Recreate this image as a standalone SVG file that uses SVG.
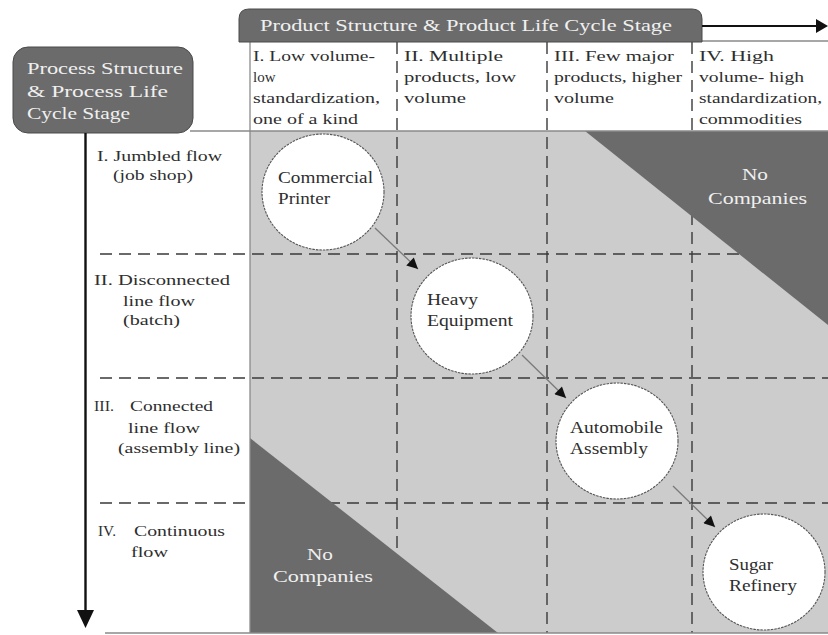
<svg xmlns="http://www.w3.org/2000/svg" width="828" height="635" viewBox="0 0 828 635" font-family="'Liberation Serif', 'DejaVu Serif', 'Times New Roman', serif">
  <defs>
    <style>
      text{font-family:"Liberation Serif","DejaVu Serif","Times New Roman",serif}
      .lbl{font-size:14px;fill:#2e2e2e}
      .big{font-size:16px}
      .inv{fill:#f0f0f0}
      .grid{stroke:#3a3a3a;stroke-width:1.4;stroke-dasharray:12 7;fill:none}
      .rule{stroke:#8a8a8a;stroke-width:1.3;fill:none}
      .dark{fill:#6b6b6b}
      .node{fill:#ffffff;stroke:#555555;stroke-width:1.1;stroke-dasharray:2.5 1}
      .link{stroke:#7a7a7a;stroke-width:1.3;fill:none;marker-end:url(#ah)}
      .axis{stroke:#111111;stroke-width:2.4;fill:none}
    </style>
    <marker id="ah" viewBox="0 0 10 10" markerWidth="12" markerHeight="11" refX="10" refY="5" orient="auto" markerUnits="userSpaceOnUse">
      <path d="M0,0 L10,5 L0,10 Z" fill="#111111"/>
    </marker>
  </defs>

  <!-- matrix background -->
  <rect x="250" y="131" width="578" height="502" fill="#cccccc"/>

  <!-- grid lines (dashed) -->
  <g id="grid">
    <line class="grid" x1="397" y1="42" x2="397" y2="633"/>
    <line class="grid" x1="547" y1="42" x2="547" y2="633"/>
    <line class="grid" x1="692" y1="42" x2="692" y2="633"/>
    <line class="grid" x1="100" y1="254" x2="828" y2="254"/>
    <line class="grid" x1="100" y1="378" x2="828" y2="378"/>
    <line class="grid" x1="100" y1="503" x2="828" y2="503"/>
  </g>

  <!-- empty zones -->
  <g id="zone-top-right">
    <polygon class="dark" points="585,131 828,131 828,325"/>
    <text class="lbl big inv" x="742" y="180" textLength="26" lengthAdjust="spacingAndGlyphs">No</text>
    <text class="lbl big inv" x="708" y="204" textLength="99" lengthAdjust="spacingAndGlyphs">Companies</text>
  </g>
  <g id="zone-bottom-left">
    <polygon class="dark" points="250,438 250,633 498,633"/>
    <text class="lbl big inv" x="307" y="560" textLength="26" lengthAdjust="spacingAndGlyphs">No</text>
    <text class="lbl big inv" x="273" y="582" textLength="100" lengthAdjust="spacingAndGlyphs">Companies</text>
  </g>

  <!-- frame rules -->
  <g id="frame">
    <line class="rule" x1="190" y1="131" x2="828" y2="131"/>
    <line class="rule" x1="250" y1="42" x2="250" y2="633"/>
    <line class="rule" x1="702" y1="41" x2="828" y2="41"/>
    <line class="rule" x1="105" y1="633" x2="828" y2="633"/>
  </g>

  <!-- product axis header -->
  <g id="product-axis">
    <path class="dark" d="M239,42 V19 Q239,9 249,9 H692 Q702,9 702,19 V42 Z" stroke="#4a4a4a" stroke-width="1"/>
    <text class="lbl big inv" x="260" y="31" textLength="412" lengthAdjust="spacingAndGlyphs">Product Structure &amp; Product Life Cycle Stage</text>
    <line x1="702" y1="26" x2="818" y2="26" stroke="#111" stroke-width="2"/>
    <polygon points="816,19 828,26 816,33" fill="#111"/>
  </g>

  <!-- process axis header -->
  <g id="process-axis">
    <rect class="dark" x="13" y="47" width="180" height="86" rx="15" ry="15" stroke="#4a4a4a" stroke-width="1"/>
    <text class="lbl big inv" x="27" y="74" textLength="156" lengthAdjust="spacingAndGlyphs">Process Structure</text>
    <text class="lbl big inv" x="27" y="97" textLength="141" lengthAdjust="spacingAndGlyphs">&amp; Process Life</text>
    <text class="lbl big inv" x="27" y="119" textLength="103" lengthAdjust="spacingAndGlyphs">Cycle Stage</text>
    <line class="axis" x1="85.5" y1="133" x2="85.5" y2="612"/>
    <polygon points="77,610 94,610 85.5,628" fill="#111"/>
  </g>

  <!-- column headings -->
  <g id="col-1">
    <text class="lbl" x="253" y="61" textLength="122" lengthAdjust="spacingAndGlyphs">I. Low volume-</text>
    <text class="lbl" x="253" y="82" font-size="15" style="font-size:15px">low</text>
    <text class="lbl" x="253" y="103" textLength="127" lengthAdjust="spacingAndGlyphs">standardization,</text>
    <text class="lbl" x="253" y="124" textLength="105" lengthAdjust="spacingAndGlyphs">one of a kind</text>
  </g>
  <g id="col-2">
    <text class="lbl" x="404" y="61" textLength="99" lengthAdjust="spacingAndGlyphs">II. Multiple</text>
    <text class="lbl" x="404" y="82" textLength="112" lengthAdjust="spacingAndGlyphs">products, low</text>
    <text class="lbl" x="404" y="103" textLength="62" lengthAdjust="spacingAndGlyphs">volume</text>
  </g>
  <g id="col-3">
    <text class="lbl" x="554" y="61" textLength="120" lengthAdjust="spacingAndGlyphs">III. Few major</text>
    <text class="lbl" x="554" y="82" textLength="128" lengthAdjust="spacingAndGlyphs">products, higher</text>
    <text class="lbl" x="554" y="103" textLength="60" lengthAdjust="spacingAndGlyphs">volume</text>
  </g>
  <g id="col-4">
    <text class="lbl" x="699" y="61" textLength="75" lengthAdjust="spacingAndGlyphs">IV. High</text>
    <text class="lbl" x="699" y="82" textLength="105" lengthAdjust="spacingAndGlyphs">volume- high</text>
    <text class="lbl" x="699" y="103" textLength="123" lengthAdjust="spacingAndGlyphs">standardization,</text>
    <text class="lbl" x="699" y="124" textLength="103" lengthAdjust="spacingAndGlyphs">commodities</text>
  </g>

  <!-- row headings -->
  <g id="row-1">
    <text class="lbl" x="97" y="161" textLength="125" lengthAdjust="spacingAndGlyphs">I. Jumbled flow</text>
    <text class="lbl" x="113" y="180" textLength="80" lengthAdjust="spacingAndGlyphs">(job shop)</text>
  </g>
  <g id="row-2">
    <text class="lbl" x="94" y="285" textLength="136" lengthAdjust="spacingAndGlyphs">II. Disconnected</text>
    <text class="lbl" x="123" y="306" textLength="72" lengthAdjust="spacingAndGlyphs">line flow</text>
    <text class="lbl" x="123" y="325" textLength="57" lengthAdjust="spacingAndGlyphs">(batch)</text>
  </g>
  <g id="row-3">
    <text class="lbl" x="94" y="411" textLength="20" lengthAdjust="spacingAndGlyphs">III.</text>
    <text class="lbl" x="130" y="411" textLength="83" lengthAdjust="spacingAndGlyphs">Connected</text>
    <text class="lbl" x="128" y="433" textLength="72" lengthAdjust="spacingAndGlyphs">line flow</text>
    <text class="lbl" x="118" y="453" textLength="122" lengthAdjust="spacingAndGlyphs">(assembly line)</text>
  </g>
  <g id="row-4">
    <text class="lbl" x="98" y="536" textLength="18" lengthAdjust="spacingAndGlyphs">IV.</text>
    <text class="lbl" x="134" y="536" textLength="91" lengthAdjust="spacingAndGlyphs">Continuous</text>
    <text class="lbl" x="131" y="557" textLength="37" lengthAdjust="spacingAndGlyphs">flow</text>
  </g>

  <!-- connectors -->
  <g id="connectors">
    <line class="link" x1="375" y1="228" x2="418" y2="269"/>
    <line class="link" x1="522" y1="355" x2="566" y2="398"/>
    <line class="link" x1="673" y1="486" x2="715" y2="527"/>
  </g>

  <!-- company nodes -->
  <g id="commercial-printer">
    <ellipse class="node" cx="323" cy="192" rx="61" ry="58"/>
    <text class="lbl big" x="278" y="183" textLength="95" lengthAdjust="spacingAndGlyphs">Commercial</text>
    <text class="lbl big" x="278" y="204" textLength="52" lengthAdjust="spacingAndGlyphs">Printer</text>
  </g>
  <g id="heavy-equipment">
    <ellipse class="node" cx="472" cy="316" rx="61" ry="58"/>
    <text class="lbl big" x="427" y="305" textLength="51" lengthAdjust="spacingAndGlyphs">Heavy</text>
    <text class="lbl big" x="427" y="326" textLength="86" lengthAdjust="spacingAndGlyphs">Equipment</text>
  </g>
  <g id="automobile-assembly">
    <ellipse class="node" cx="617" cy="441" rx="61" ry="58"/>
    <text class="lbl big" x="570" y="433" textLength="93" lengthAdjust="spacingAndGlyphs">Automobile</text>
    <text class="lbl big" x="570" y="454" textLength="78" lengthAdjust="spacingAndGlyphs">Assembly</text>
  </g>
  <g id="sugar-refinery">
    <ellipse class="node" cx="764" cy="572" rx="61" ry="58"/>
    <text class="lbl big" x="729" y="570" textLength="44" lengthAdjust="spacingAndGlyphs">Sugar</text>
    <text class="lbl big" x="729" y="591" textLength="68" lengthAdjust="spacingAndGlyphs">Refinery</text>
  </g>
</svg>
